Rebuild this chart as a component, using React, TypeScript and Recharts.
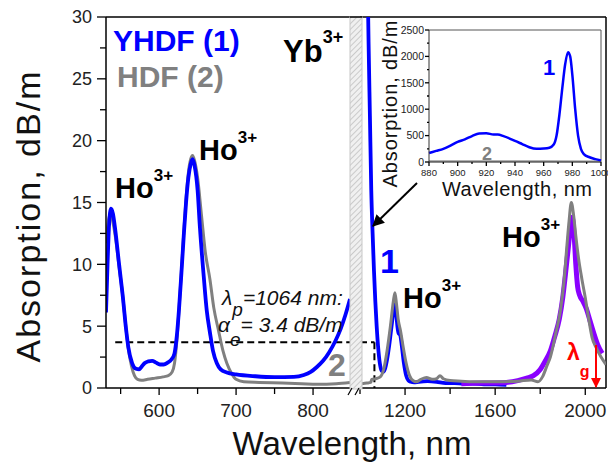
import React from 'react';
import { LineChart, Line, XAxis, YAxis, ReferenceLine } from 'recharts';

// [wavelength nm, absorption dB/m]
const yhdfVisible: [number, number][] = [
  [531, 6.1], [533, 10], [535, 13.2], [537.5, 14.5], [540, 14.1], [543, 12.8], [548, 10], [553, 7.3],
  [557, 4.8], [560, 3.3], [565, 2.0], [570, 1.55], [574, 1.5], [577, 1.7], [581, 2.0], [586, 2.15],
  [591, 2.2], [596, 2.05], [601, 1.9], [606, 1.9], [611, 2.05], [616, 2.3], [620, 2.8], [623, 4.2],
  [626, 6.5], [629, 9.3], [632, 12.3], [635, 15.0], [638, 17.0], [641, 18.1], [643.5, 18.5], [646, 18.0],
  [650, 16.0], [653, 13.0], [658, 9.0], [662, 6.2], [666, 4.5], [670, 3.0], [675, 2.0], [680, 1.5],
  [688, 1.25], [700, 1.1], [725, 0.95], [750, 0.88], [775, 0.9], [788, 1.05], [797, 1.3], [805, 1.7],
  [813, 2.2], [821, 2.9], [829, 3.8], [836, 4.8], [842, 5.9], [848, 7.2],
];

const hdfVisible: [number, number][] = [
  [531, 11.7], [533, 13.0], [535.5, 13.9], [538, 14.0], [540, 13.4], [543, 12.3], [548, 9.8], [553, 7.3],
  [557, 4.8], [560, 3.2], [564, 1.8], [568, 1.0], [572, 0.7], [577, 0.63], [585, 0.7], [595, 0.8],
  [605, 0.9], [612, 1.0], [617, 1.3], [620, 2.0], [623, 3.8], [626, 6.5], [629, 9.5], [632, 12.5],
  [635, 15.3], [638, 17.4], [641, 18.5], [643.5, 18.8], [646, 18.4], [650, 17.0], [655, 14.0], [660, 11.0],
  [666, 8.8], [671, 6.5], [677, 4.7], [683, 3.0], [688, 2.0], [694, 1.2], [700, 0.7], [710, 0.5],
  [730, 0.45], [760, 0.4], [785, 0.35], [805, 0.3], [830, 0.35], [848, 0.45],
];

const yhdfNir: [number, number][] = [
  [1000, 90], [1015, 60], [1025, 45], [1033, 34], [1038, 28], [1044, 22], [1050, 16], [1056, 12.5],
  [1062, 9.5], [1068, 7], [1074, 5], [1080, 3.4], [1088, 2.0], [1096, 1.4], [1103, 1.3], [1110, 1.5],
  [1120, 2.3], [1130, 3.5], [1140, 5.0], [1150, 6.4], [1156, 6.8], [1161, 6.0], [1166, 5.0], [1172, 4.4],
  [1178, 4.3], [1185, 3.5], [1195, 2.0], [1205, 1.0], [1215, 0.6], [1225, 0.5], [1240, 0.45], [1260, 0.5],
  [1300, 0.55], [1340, 0.5], [1380, 0.4], [1420, 0.4], [1460, 0.35], [1500, 0.35], [1550, 0.3],
  [1600, 0.3], [1650, 0.25],
];

const yhdfMidIr: [number, number][] = [
  [1450, 0.35], [1550, 0.4], [1650, 0.45], [1700, 0.6], [1740, 0.8], [1770, 1.0], [1800, 1.5], [1820, 2.1],
  [1845, 3.0], [1865, 4.2], [1885, 5.6], [1900, 7.3], [1912, 9.2], [1925, 11.4], [1935, 13.2], [1942, 13.8],
  [1950, 12.5], [1958, 10.0], [1966, 8.2], [1975, 7.5], [1990, 7.0], [2005, 6.4], [2020, 5.5], [2040, 4.3],
  [2055, 3.5], [2075, 2.8],
];

const hdfNir: [number, number][] = [
  [1009, 0.35], [1030, 0.4], [1048, 0.45], [1052, 0.7], [1070, 0.75], [1090, 0.9], [1105, 1.5], [1120, 3.0],
  [1135, 5.0], [1148, 7.0], [1155, 7.7], [1162, 6.8], [1170, 5.5], [1180, 4.6], [1190, 3.5], [1205, 2.0],
  [1220, 1.0], [1235, 0.6], [1250, 0.5], [1270, 0.7], [1295, 0.85], [1320, 0.7], [1340, 0.75], [1355, 1.0],
  [1370, 0.75], [1400, 0.6], [1450, 0.55], [1500, 0.5], [1600, 0.5], [1700, 0.55], [1760, 0.65], [1790, 0.5],
  [1810, 0.9], [1830, 1.8], [1845, 2.5], [1870, 4.5], [1890, 6.3], [1905, 8.5], [1918, 11.4], [1928, 13.5],
  [1938, 15.0], [1948, 14.0], [1958, 12.3], [1970, 10.5], [1985, 8.8], [2000, 7.3], [2015, 5.6], [2030, 4.1],
  [2050, 3.2], [2070, 2.5], [2092, 1.9],
];

// inset: Yb3+ band
const insetYhdf: [number, number][] = [
  [880, 170], [885, 210], [890, 250], [895, 310], [900, 380], [905, 430], [910, 490], [915, 540], [920, 545],
  [925, 520], [928, 520], [932, 490], [940, 400], [945, 340], [950, 280], [955, 250], [960, 255], [964, 270],
  [967, 330], [969, 500], [971, 900], [973, 1400], [975, 1850], [977, 2080], [978.5, 2000], [980, 1650],
  [982, 1000], [984, 500], [986, 250], [988, 150], [992, 90], [996, 55], [1000, 30],
];
const insetHdf: [number, number][] = [[880, 15], [920, 15], [960, 12], [1000, 10]];

const leftTicks = [550, 600, 650, 700, 750, 800];
const leftLabels = [600, 700, 800];
const rightTicks = [1000, 1200, 1400, 1600, 1800, 2000];
const rightLabels = [1200, 1600, 2000];
const yTicks = [0, 2.5, 5, 7.5, 10, 12.5, 15, 17.5, 20, 22.5, 25, 27.5, 30];
const yLabels = [0, 5, 10, 15, 20, 25, 30];
const insetXTicks = [880, 890, 900, 910, 920, 930, 940, 950, 960, 970, 980, 990, 1000];
const insetXLabels = [880, 900, 920, 940, 960, 980, 1000];
const insetYTicks = [0, 250, 500, 750, 1000, 1250, 1500, 1750, 2000, 2250, 2500];
const insetYLabels = [0, 500, 1000, 1500, 2000, 2500];

const pumpLevel = 3.7;
const pumpNm = 1064;
const lineStartNm = 543;

const FONT = 'Arial, "Liberation Sans", Helvetica, sans-serif';
const TS = 8;
const TM = 4;

const pts = (arr: [number, number][]) => arr.map(([x, y]) => ({ x, y }));

function bottomTick(labels: number[], major: number, minor: number, fontSize: number, dy: number) {
  return (props: any) => {
    const { x, y, payload } = props;
    const y0 = y - TS - TM;
    const isMajor = labels.includes(payload.value);
    return (
      <g>
        <line x1={x} x2={x} y1={y0} y2={y0 + (isMajor ? major : minor)} stroke="#000" strokeWidth={1.3} />
        {isMajor && (
          <text x={x} y={y0 + dy} textAnchor="middle" fontSize={fontSize} fontFamily={FONT} fill="#222">
            {payload.value}
          </text>
        )}
      </g>
    );
  };
}

function leftTick(labels: number[], major: number, minor: number, fontSize: number, gap: number) {
  return (props: any) => {
    const { x, y, payload } = props;
    const x0 = x + TS + TM;
    const isMajor = labels.includes(payload.value);
    return (
      <g>
        <line x1={x0 - (isMajor ? major : minor)} x2={x0} y1={y} y2={y} stroke="#000" strokeWidth={1.3} />
        {isMajor && (
          <text x={x0 - gap} y={y} dy="0.36em" textAnchor="end" fontSize={fontSize} fontFamily={FONT} fill="#222">
            {payload.value}
          </text>
        )}
      </g>
    );
  };
}

const axisStyle = { stroke: '#000', strokeWidth: 1.5 };

function Ho({ x, y }: { x: number; y: number }) {
  return (
    <text x={x} y={y} fontSize={29} fontWeight="bold" fontFamily={FONT} fill="#000">
      Ho<tspan dy={-17} fontSize={17}>3+</tspan>
    </text>
  );
}

export default function App() {
  return (
    <div style={{ position: 'fixed', left: 0, top: 0, width: 608, height: 470, background: '#fff', fontFamily: FONT }}>
      {/* main plot, visible part */}
      <div style={{ position: 'absolute', left: 0, top: 0 }}>
        <LineChart width={352} height={470} margin={{ top: 17, right: 2, bottom: 52, left: 0 }}>
          <XAxis type="number" dataKey="x" domain={[531, 848]} ticks={leftTicks} interval={0} height={30}
            tickSize={TS} tickMargin={TM} tickLine={false} axisLine={axisStyle} allowDataOverflow
            tick={bottomTick(leftLabels, 7, 6, 19, 29)} />
          <YAxis type="number" domain={[0, 30]} ticks={yTicks} interval={0} width={106}
            tickSize={TS} tickMargin={TM} tickLine={false} axisLine={axisStyle} allowDataOverflow
            tick={leftTick(yLabels, 9, 6, 18, 14)} />
          <ReferenceLine y={30} stroke="#000" strokeWidth={1.5} />
          <ReferenceLine segment={[{ x: lineStartNm, y: pumpLevel }, { x: 848, y: pumpLevel }]}
            stroke="#000" strokeWidth={2} strokeDasharray="7 4" />
          <Line data={pts(hdfVisible)} dataKey="y" type="monotone" stroke="#808080" strokeWidth={3}
            dot={false} isAnimationActive={false} />
          <Line data={pts(yhdfVisible)} dataKey="y" type="monotone" stroke="#0000ff" strokeWidth={3.8}
            dot={false} isAnimationActive={false} />
        </LineChart>
      </div>

      {/* main plot, near/mid IR part */}
      <div style={{ position: 'absolute', left: 350, top: 0 }}>
        <LineChart width={258} height={470} margin={{ top: 17, right: 2, bottom: 52, left: 10 }}>
          <XAxis type="number" dataKey="x" domain={[1000, 2092]} ticks={rightTicks} interval={0} height={30}
            tickSize={TS} tickMargin={TM} tickLine={false} axisLine={axisStyle} allowDataOverflow
            tick={bottomTick(rightLabels, 7, 6, 19, 29)} />
          <YAxis type="number" domain={[0, 30]} hide allowDataOverflow />
          <ReferenceLine y={30} stroke="#000" strokeWidth={1.5} />
          <ReferenceLine x={2092} stroke="#000" strokeWidth={1.5} />
          <ReferenceLine segment={[{ x: 1000, y: pumpLevel }, { x: pumpNm, y: pumpLevel }]}
            stroke="#000" strokeWidth={2} strokeDasharray="7 4" />
          <ReferenceLine segment={[{ x: pumpNm, y: pumpLevel }, { x: pumpNm, y: 0 }]}
            stroke="#000" strokeWidth={2} strokeDasharray="7 4" />
          <Line data={pts(yhdfNir)} dataKey="y" type="monotone" stroke="#0000ff" strokeWidth={3.8}
            dot={false} isAnimationActive={false} />
          <Line data={pts(yhdfMidIr)} dataKey="y" type="monotone" stroke="#8a00ff" strokeWidth={5}
            dot={false} isAnimationActive={false} />
          <Line data={pts(hdfNir)} dataKey="y" type="monotone" stroke="#808080" strokeWidth={3}
            dot={false} isAnimationActive={false} />
        </LineChart>
      </div>

      {/* inset */}
      <div style={{ position: 'absolute', left: 370, top: 0 }}>
        <LineChart width={238} height={200} margin={{ top: 30, right: 7, bottom: 18, left: 19 }}>
          <XAxis type="number" dataKey="x" domain={[880, 1000]} ticks={insetXTicks} interval={0} height={20}
            tickSize={TS} tickMargin={TM} tickLine={false} axisLine={{ stroke: '#333', strokeWidth: 1 }}
            tick={bottomTick(insetXLabels, 4, 2, 9.5, 14)} />
          <YAxis type="number" domain={[0, 2500]} ticks={insetYTicks} interval={0} width={40}
            tickSize={TS} tickMargin={TM} tickLine={false} axisLine={{ stroke: '#333', strokeWidth: 1 }}
            tick={leftTick(insetYLabels, 4, 2, 10.5, 5)} />
          <ReferenceLine y={2500} stroke="#555" strokeWidth={1} />
          <ReferenceLine x={1000} stroke="#555" strokeWidth={1} />
          <Line data={pts(insetHdf)} dataKey="y" type="monotone" stroke="#999" strokeWidth={2}
            dot={false} isAnimationActive={false} />
          <Line data={pts(insetYhdf)} dataKey="y" type="monotone" stroke="#0000ff" strokeWidth={2.5}
            dot={false} isAnimationActive={false} />
        </LineChart>
      </div>

      {/* annotations */}
      <svg width={608} height={470} style={{ position: 'absolute', left: 0, top: 0, pointerEvents: 'none' }}>
        <defs>
          <pattern id="hatch" width="4" height="4" patternUnits="userSpaceOnUse" patternTransform="rotate(45)">
            <rect width="4" height="4" fill="#f0f0f0" />
            <line x1="0" y1="0" x2="0" y2="4" stroke="#b5b5b5" strokeWidth="1.3" />
          </pattern>
          <marker id="ahBlack" viewBox="0 0 10 10" refX="9" refY="5" markerWidth="6" markerHeight="6" orient="auto">
            <path d="M0,0 L10,5 L0,10 z" fill="#000" />
          </marker>
          <marker id="ahRed" viewBox="0 0 10 10" refX="9" refY="5" markerWidth="5" markerHeight="5" orient="auto">
            <path d="M0,0 L10,5 L0,10 z" fill="#ff0000" />
          </marker>
        </defs>

        {/* axis break */}
        <rect x={350} y={17} width={12} height={372} fill="url(#hatch)" stroke="#c8c8c8" strokeWidth={1} />
        <line x1={350} x2={362} y1={17} y2={17} stroke="#000" strokeWidth={1.5} />
        <line x1={348} y1={395} x2={352} y2={388} stroke="#000" strokeWidth={1.2} />
        <line x1={355} y1={395} x2={359} y2={388} stroke="#000" strokeWidth={1.2} />

        {/* axis titles */}
        <text x={40} y={217} transform="rotate(-90 40 217)" textAnchor="middle" fontSize={34} fontFamily={FONT}
          fill="#111" textLength={291}>Absorption, dB/m</text>
        <text x={352} y={455} textAnchor="middle" fontSize={33} fontFamily={FONT} fill="#111"
          textLength={239}>Wavelength, nm</text>
        <text x={397} y={104} transform="rotate(-90 397 104)" textAnchor="middle" fontSize={20} fontFamily={FONT}
          fill="#111" textLength={167}>Absorption, dB/m</text>
        <text x={517} y={196} textAnchor="middle" fontSize={20} fontFamily={FONT} fill="#111"
          textLength={150}>Wavelength, nm</text>

        {/* legend */}
        <text x={113} y={51} fontSize={30} fontWeight="bold" fontFamily={FONT} fill="#0000ff">YHDF (1)</text>
        <text x={117} y={87} fontSize={30} fontWeight="bold" fontFamily={FONT} fill="#808080">HDF (2)</text>

        {/* ion labels */}
        <text x={283} y={62} fontSize={31} fontWeight="bold" fontFamily={FONT} fill="#000">
          Yb<tspan dy={-19} fontSize={18}>3+</tspan>
        </text>
        <Ho x={115} y={198} />
        <Ho x={199} y={160} />
        <Ho x={403} y={308} />
        <Ho x={502} y={247} />

        {/* curve numbers */}
        <text x={380} y={273} fontSize={34} fontWeight="bold" fontFamily={FONT} fill="#0000ff">1</text>
        <text x={328} y={376} fontSize={32} fontWeight="bold" fontFamily={FONT} fill="#808080">2</text>
        <text x={543} y={75} fontSize={22} fontWeight="bold" fontFamily={FONT} fill="#0000ff">1</text>
        <text x={482} y={160} fontSize={18} fontWeight="bold" fontFamily={FONT} fill="#808080">2</text>

        {/* pump annotation */}
        <text x={222} y={305} fontSize={21} fontStyle="italic" fontFamily={FONT} fill="#111">
          λ<tspan dy={11} fontSize={19}>p</tspan><tspan dy={-11}>=1064 nm:</tspan>
        </text>
        <text x={218} y={332} fontSize={21} fontStyle="italic" fontFamily={FONT} fill="#111">
          α<tspan dy={14} fontSize={19}>e</tspan><tspan dy={-14}>= 3.4 dB/m</tspan>
        </text>

        {/* arrow from inset to Yb tail */}
        <line x1={417} y1={183} x2={373} y2={226} stroke="#000" strokeWidth={2} markerEnd="url(#ahBlack)" />

        {/* lambda_g */}
        <text x={567} y={360} fontSize={23} fontWeight="bold" fontFamily={FONT} fill="#ff0000">
          λ<tspan dy={17} fontSize={16}>g</tspan>
        </text>
        <line x1={596} y1={345} x2={596} y2={387} stroke="#ff0000" strokeWidth={2} markerEnd="url(#ahRed)" />
      </svg>
    </div>
  );
}
